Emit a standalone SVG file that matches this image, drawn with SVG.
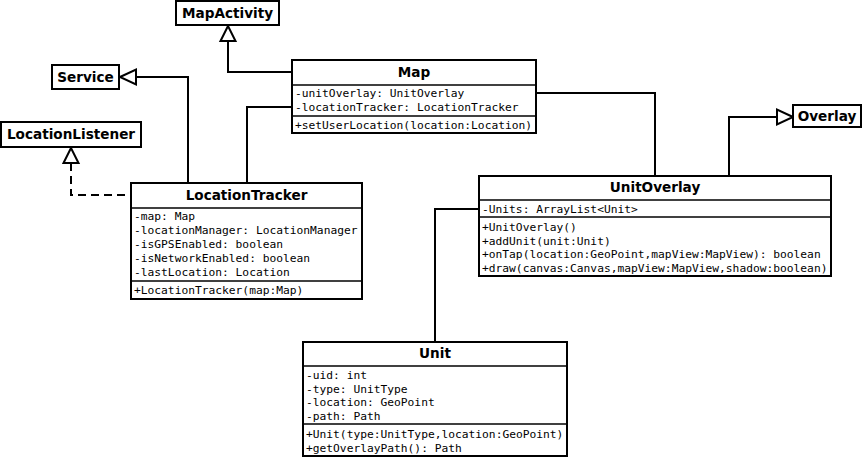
<svg xmlns="http://www.w3.org/2000/svg" width="865" height="459" viewBox="0 0 865 459">
<style>
.box{fill:#fff;stroke:#000;stroke-width:2}
.sep{stroke:#000;stroke-width:1.5;fill:none}
.t{font-family:"DejaVu Sans",Verdana,sans-serif;font-weight:bold;font-size:13.6px;text-anchor:middle;fill:#000}
.m{font-family:"DejaVu Sans Mono","Liberation Mono",monospace;font-size:11.25px;fill:#000}
.c{fill:none;stroke:#000;stroke-width:2}
.d{fill:none;stroke:#000;stroke-width:2;stroke-dasharray:8,5}
.h{fill:#fff;stroke:#000;stroke-width:2;stroke-linejoin:miter}
</style>
<rect width="865" height="459" fill="#fff"/>
<g id="connectors">
<path class="c" d="M228 41 V72 H292"/>
<polygon class="h" points="228,26 220.5,41 235.5,41"/>
<path class="c" d="M136 77 H188 V183"/>
<polygon class="h" points="120,77 136,69.5 136,84.5"/>
<path class="d" d="M71 163 V195 H131"/>
<polygon class="h" points="71,148 63.5,163 78.5,163"/>
<path class="c" d="M292 107 H247 V183"/>
<path class="c" d="M536 93 H655 V176"/>
<path class="c" d="M777 117 H729 V176"/>
<polygon class="h" points="793,117 777,109.5 777,124.5"/>
<path class="c" d="M435 342 V209 H479"/>
</g>
<g id="MapActivity">
<rect class="box" x="176" y="1" width="103" height="24"/>
<text class="t" x="227.5" y="18">MapActivity</text>
</g>
<g id="Service">
<rect class="box" x="52" y="65" width="67" height="24"/>
<text class="t" x="85.5" y="82">Service</text>
</g>
<g id="LocationListener">
<rect class="box" x="1" y="122" width="140" height="25"/>
<text class="t" x="71" y="139">LocationListener</text>
</g>
<g id="Overlay">
<rect class="box" x="793" y="105" width="68" height="22"/>
<text class="t" x="827" y="121">Overlay</text>
</g>
<g id="Map">
<rect class="box" x="292" y="60" width="244" height="73"/>
<line class="sep" x1="292" y1="85" x2="536" y2="85"/>
<line class="sep" x1="292" y1="116" x2="536" y2="116"/>
<text class="t" x="414" y="77">Map</text>
<text class="m" x="295" y="97">-unitOverlay: UnitOverlay</text>
<text class="m" x="295" y="111">-locationTracker: LocationTracker</text>
<text class="m" x="295" y="129">+setUserLocation(location:Location)</text>
</g>
<g id="LocationTracker">
<rect class="box" x="131" y="183" width="231" height="116"/>
<line class="sep" x1="131" y1="208" x2="362" y2="208"/>
<line class="sep" x1="131" y1="281" x2="362" y2="281"/>
<text class="t" x="246.5" y="200">LocationTracker</text>
<text class="m" x="134" y="220">-map: Map</text>
<text class="m" x="134" y="234">-locationManager: LocationManager</text>
<text class="m" x="134" y="248">-isGPSEnabled: boolean</text>
<text class="m" x="134" y="262">-isNetworkEnabled: boolean</text>
<text class="m" x="134" y="276">-lastLocation: Location</text>
<text class="m" x="134" y="294">+LocationTracker(map:Map)</text>
</g>
<g id="UnitOverlay">
<rect class="box" x="479" y="176" width="352" height="100"/>
<line class="sep" x1="479" y1="200" x2="831" y2="200"/>
<line class="sep" x1="479" y1="217" x2="831" y2="217"/>
<text class="t" x="655" y="192">UnitOverlay</text>
<text class="m" x="482" y="213">-Units: ArrayList&lt;Unit&gt;</text>
<text class="m" x="482" y="231">+UnitOverlay()</text>
<text class="m" x="482" y="244.5">+addUnit(unit:Unit)</text>
<text class="m" x="482" y="258">+onTap(location:GeoPoint,mapView:MapView): boolean</text>
<text class="m" x="482" y="271.5">+draw(canvas:Canvas,mapView:MapView,shadow:boolean)</text>
</g>
<g id="Unit">
<rect class="box" x="303" y="342" width="264" height="114"/>
<line class="sep" x1="303" y1="366" x2="567" y2="366"/>
<line class="sep" x1="303" y1="424" x2="567" y2="424"/>
<text class="t" x="435" y="358">Unit</text>
<text class="m" x="306" y="379">-uid: int</text>
<text class="m" x="306" y="393">-type: UnitType</text>
<text class="m" x="306" y="406">-location: GeoPoint</text>
<text class="m" x="306" y="420">-path: Path</text>
<text class="m" x="306" y="438">+Unit(type:UnitType,location:GeoPoint)</text>
<text class="m" x="306" y="452">+getOverlayPath(): Path</text>
</g>
</svg>
